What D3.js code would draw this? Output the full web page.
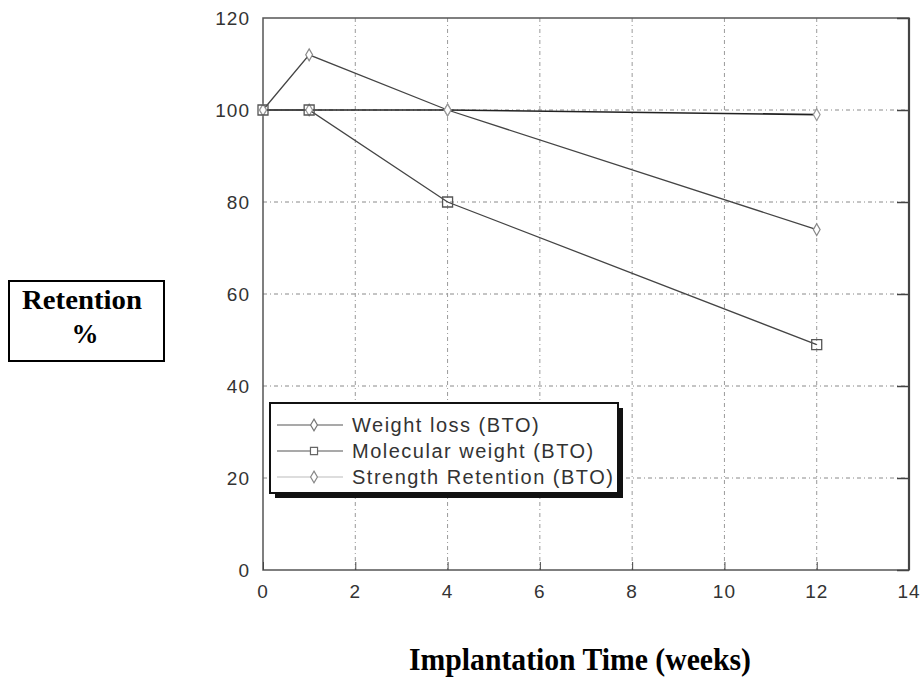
<!DOCTYPE html>
<html>
<head>
<meta charset="utf-8">
<script src="https://cdn.jsdelivr.net/npm/d3@7/dist/d3.min.js"></script>
<style>
  body { margin: 0; background: #fff; }
</style>
</head>
<body>
<div id="chart"></div>
<script>
// data
var weeks = [0, 1, 4, 12];
var weightLoss = [100, 112, 100, 74];
var molecularWeight = [100, 100, 80, 49];
var strengthRetention = [100, 100, 100, 99];
var seriesNames = ["Weight loss (BTO)", "Molecular weight (BTO)", "Strength Retention (BTO)"];
var xTicks = [0, 2, 4, 6, 8, 10, 12, 14];
var yTicks = [0, 20, 40, 60, 80, 100, 120];

var W = 923, H = 677;
var svg = d3.select("#chart").append("svg")
	.attr("width", W)
	.attr("height", H);

var x = d3.scaleLinear().domain([0, 14]).range([263, 909]);
var y = d3.scaleLinear().domain([0, 120]).range([570, 18]);

// grid lines (dash-dot grey)
svg.append("g").selectAll("line.vg")
	.data(xTicks.slice(1, -1))
	.enter().append("line")
	.attr("x1", function(d) { return x(d); })
	.attr("x2", function(d) { return x(d); })
	.attr("y1", y(120))
	.attr("y2", y(0))
	.style("stroke", "#9a9a9a")
	.style("stroke-width", 1)
	.style("stroke-dasharray", "4,3,1,3");

svg.append("g").selectAll("line.hg")
	.data(yTicks.slice(1, -1))
	.enter().append("line")
	.attr("x1", x(0))
	.attr("x2", x(14))
	.attr("y1", function(d) { return y(d); })
	.attr("y2", function(d) { return y(d); })
	.style("stroke", "#8a8a8a")
	.style("stroke-width", 1)
	.style("stroke-dasharray", "4,3,1,3");

// frame
svg.append("rect")
	.attr("x", x(0))
	.attr("y", y(120))
	.attr("width", x(14) - x(0))
	.attr("height", y(0) - y(120))
	.style("fill", "none")
	.style("stroke", "#555")
	.style("stroke-width", 1.5);
svg.append("line")
	.attr("x1", x(14)).attr("x2", x(14))
	.attr("y1", y(120)).attr("y2", y(0))
	.style("stroke", "#444")
	.style("stroke-width", 2.2);

// inward ticks
var xAxis = d3.axisBottom(x).tickValues(xTicks).tickSizeInner(-8).tickSizeOuter(0).tickFormat("");
var gx = svg.append("g").attr("transform", "translate(0," + y(0) + ")").call(xAxis);
gx.select(".domain").remove();
gx.selectAll("line").style("stroke", "#444");

var yAxisR = d3.axisRight(y).tickValues(yTicks).tickSizeInner(-12).tickSizeOuter(0).tickFormat("");
var gy = svg.append("g").attr("transform", "translate(" + x(14) + ",0)").call(yAxisR);
gy.select(".domain").remove();
gy.selectAll("line").style("stroke", "#444").style("stroke-width", 1.5);

// tick labels
svg.append("g").selectAll("text")
	.data(yTicks)
	.enter().append("text")
	.attr("x", 250)
	.attr("y", function(d) { return y(d) + 7; })
	.attr("text-anchor", "end")
	.style("font-family", "Liberation Sans, Arial, sans-serif")
	.style("font-size", "19px")
	.style("letter-spacing", "1px")
	.style("fill", "#333")
	.text(function(d) { return d; });

svg.append("g").selectAll("text")
	.data(xTicks)
	.enter().append("text")
	.attr("x", function(d) { return x(d); })
	.attr("y", 598)
	.attr("text-anchor", "middle")
	.style("font-family", "Liberation Sans, Arial, sans-serif")
	.style("font-size", "19px")
	.style("letter-spacing", "1px")
	.style("fill", "#333")
	.text(function(d) { return d; });

// series
function pts(vals) {
	return weeks.map(function(w, i) { return [w, vals[i]]; });
}
var line = d3.line()
	.x(function(d) { return x(d[0]); })
	.y(function(d) { return y(d[1]); });

svg.append("path").datum(pts(strengthRetention))
	.attr("d", line)
	.style("fill", "none")
	.style("stroke", "#222")
	.style("stroke-width", 1.6);

svg.append("path").datum(pts(weightLoss))
	.attr("d", line)
	.style("fill", "none")
	.style("stroke", "#444")
	.style("stroke-width", 1.3);

svg.append("path").datum(pts(molecularWeight))
	.attr("d", line)
	.style("fill", "none")
	.style("stroke", "#444")
	.style("stroke-width", 1.3);

var diamond = d3.symbol().type(d3.symbolDiamond).size(40);
var square = d3.symbol().type(d3.symbolSquare).size(100);

svg.append("g").selectAll("path")
	.data(pts(weightLoss))
	.enter().append("path")
	.attr("d", diamond)
	.attr("transform", function(d) { return "translate(" + x(d[0]) + "," + y(d[1]) + ")"; })
	.style("fill", "#fff")
	.style("stroke", "#888")
	.style("stroke-width", 1.2);

svg.append("g").selectAll("path")
	.data(pts(strengthRetention))
	.enter().append("path")
	.attr("d", diamond)
	.attr("transform", function(d) { return "translate(" + x(d[0]) + "," + y(d[1]) + ")"; })
	.style("fill", "#fff")
	.style("stroke", "#999")
	.style("stroke-width", 1.2);

svg.append("g").selectAll("path")
	.data(pts(molecularWeight))
	.enter().append("path")
	.attr("d", square)
	.attr("transform", function(d) { return "translate(" + x(d[0]) + "," + y(d[1]) + ")"; })
	.style("fill", "none")
	.style("stroke", "#555")
	.style("stroke-width", 1.3);

// legend
var lg = svg.append("g");
lg.append("rect")
	.attr("x", 275).attr("y", 408)
	.attr("width", 348).attr("height", 90)
	.style("fill", "#111");
lg.append("rect")
	.attr("x", 270).attr("y", 403)
	.attr("width", 348).attr("height", 90)
	.style("fill", "#fff")
	.style("stroke", "#111")
	.style("stroke-width", 2);

var legendRows = [
	{ name: seriesNames[0], color: "#555", mark: diamond, ms: "#777" },
	{ name: seriesNames[1], color: "#555", mark: d3.symbol().type(d3.symbolSquare).size(50), ms: "#666" },
	{ name: seriesNames[2], color: "#bbb", mark: diamond, ms: "#888" }
];
legendRows.forEach(function(r, i) {
	var ly = 425 + i * 26;
	lg.append("line")
		.attr("x1", 277).attr("x2", 343)
		.attr("y1", ly).attr("y2", ly)
		.style("stroke", r.color)
		.style("stroke-width", 1.2);
	lg.append("path")
		.attr("d", r.mark)
		.attr("transform", "translate(314," + ly + ")")
		.style("fill", "#fff")
		.style("stroke", r.ms)
		.style("stroke-width", 1.2);
	lg.append("text")
		.attr("x", 352)
		.attr("y", ly + 7)
		.style("font-family", "Liberation Sans, Arial, sans-serif")
		.style("font-size", "20px")
		.style("letter-spacing", "1.5px")
		.style("fill", "#333")
		.text(r.name);
});

// y label box
svg.append("rect")
	.attr("x", 9).attr("y", 281)
	.attr("width", 155).attr("height", 80)
	.style("fill", "#fff")
	.style("stroke", "#000")
	.style("stroke-width", 2);
svg.append("text")
	.attr("x", 82).attr("y", 309)
	.attr("text-anchor", "middle")
	.attr("textLength", 120)
	.attr("lengthAdjust", "spacingAndGlyphs")
	.style("font-family", "Liberation Serif, Times New Roman, serif")
	.style("font-weight", "bold")
	.style("font-size", "27px")
	.text("Retention");
svg.append("text")
	.attr("x", 85).attr("y", 343)
	.attr("text-anchor", "middle")
	.style("font-family", "Liberation Serif, Times New Roman, serif")
	.style("font-weight", "bold")
	.style("font-size", "27px")
	.text("%");

// x label
svg.append("text")
	.attr("x", 580).attr("y", 670)
	.attr("text-anchor", "middle")
	.attr("textLength", 342)
	.attr("lengthAdjust", "spacingAndGlyphs")
	.style("font-family", "Liberation Serif, Times New Roman, serif")
	.style("font-weight", "bold")
	.style("font-size", "31px")
	.text("Implantation Time (weeks)");
</script>
</body>
</html>
